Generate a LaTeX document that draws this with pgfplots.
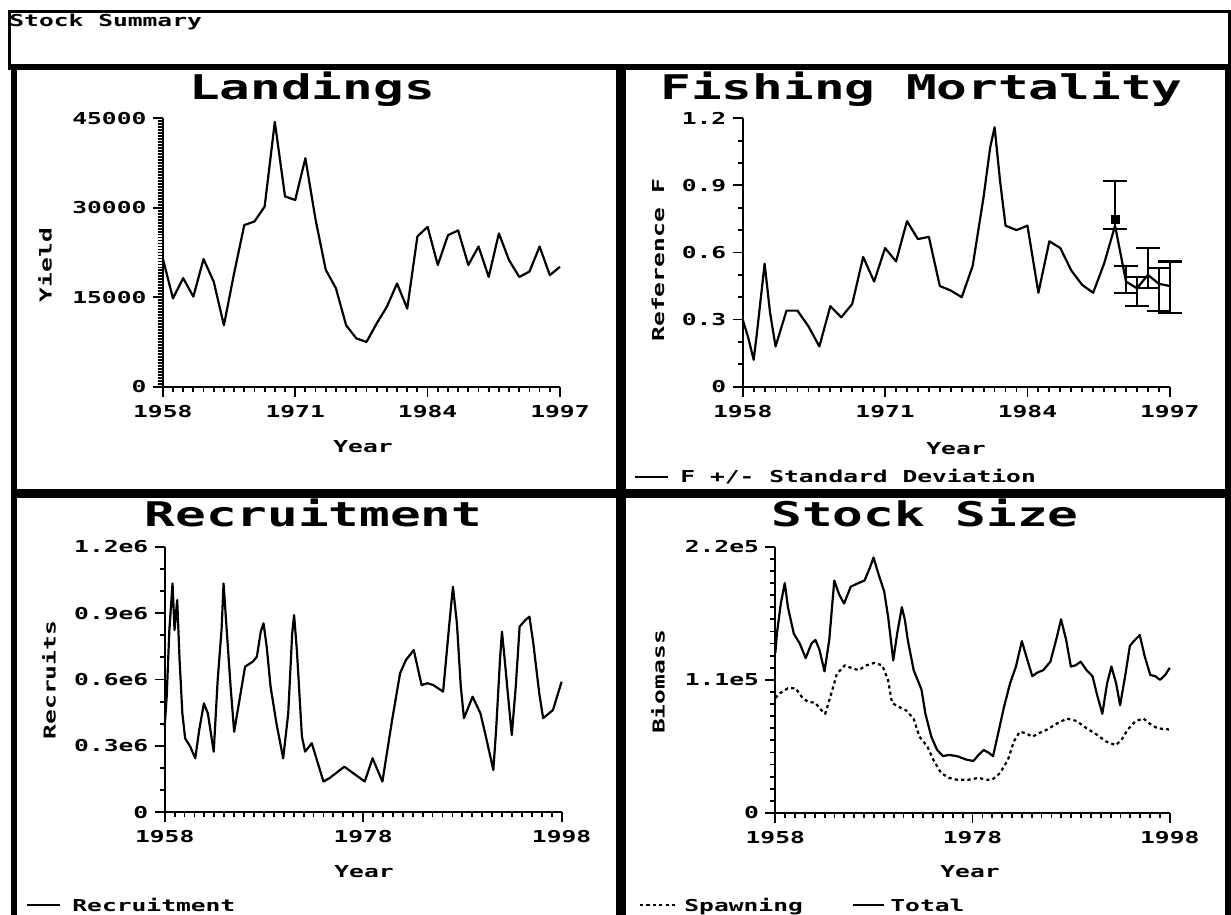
\documentclass[border=0pt]{standalone}
\usepackage{fontspec}
\usepackage{pgfplots}
\usepackage{pgfplotstable}
\pgfplotsset{compat=1.18}
\newfontfamily\pix[FakeStretch=1.5]{DejaVu Sans Mono Bold}
\newcommand\tf{\pix\fontsize{8.2}{9}\selectfont}
\newcommand\ttl{\pix\fontsize{17}{19}\selectfont}

\pgfplotstableread{
year y
1958 21500
1959 14800
1960 18200
1961 15100
1962 21400
1963 17600
1964 10300
1965 19000
1966 27100
1967 27700
1968 30200
1969 44400
1970 31900
1971 31300
1972 38300
1973 28000
1974 19600
1975 16500
1976 10300
1977 8100
1978 7500
1979 10600
1980 13400
1981 17300
1982 13100
1983 25200
1984 26800
1985 20400
1986 25400
1987 26200
1988 20400
1989 23500
1990 18400
1991 25700
1992 21200
1993 18400
1994 19300
1995 23500
1996 18700
1997 20100
}\landings

\pgfplotstableread{
year f
1958 0.30
1958.5 0.22
1959 0.12
1959.3 0.24
1960 0.55
1960.5 0.33
1961 0.18
1962 0.34
1963 0.34
1964 0.27
1965 0.18
1966 0.36
1967 0.31
1968 0.37
1969 0.58
1970 0.47
1971 0.62
1972 0.56
1973 0.74
1974 0.66
1975 0.67
1976 0.45
1977 0.43
1978 0.40
1979 0.54
1980 0.85
1980.6 1.07
1981 1.16
1981.5 0.92
1982 0.72
1983 0.70
1984 0.72
1985 0.42
1986 0.65
1987 0.62
1988 0.52
1989 0.455
1990 0.42
1991 0.55
1992 0.72
1993 0.47
1994 0.44
1995 0.50
1996 0.46
1997 0.45
}\fmort

\pgfplotstableread{
year f ep em
1992 0.75 0.17 0.045
1993 0.47 0.07 0.05
1994 0.43 0.06 0.07
1995 0.50 0.12 0.06
1996 0.46 0.07 0.12
1997 0.46 0.10 0.13
}\ferr

\pgfplotstableread{
year r
1958.0 387000
1958.2 522000
1958.47 824000
1958.79 1034000
1958.99 824000
1959.26 959000
1959.5 688000
1959.78 447000
1960.06 334000
1960.57 297000
1961.08 244000
1961.48 372000
1961.95 492000
1962.35 447000
1962.94 274000
1963.34 598000
1963.73 824000
1963.93 1034000
1964.25 824000
1964.64 568000
1965.0 364000
1965.31 447000
1966.1 658000
1966.89 681000
1967.29 703000
1967.68 816000
1967.96 854000
1968.28 748000
1968.67 568000
1969.26 402000
1969.94 244000
1970.45 447000
1970.85 809000
1971.04 891000
1971.32 733000
1971.83 342000
1972.15 274000
1972.82 312000
1973.34 236000
1974.0 139000
1974.6 154000
1976.1 206000
1978.16 139000
1978.95 244000
1979.94 139000
1980.92 417000
1981.72 628000
1982.31 688000
1983.1 733000
1983.89 575000
1984.48 583000
1985.07 575000
1986.06 545000
1986.66 839000
1987.05 1019000
1987.45 854000
1987.84 568000
1988.16 425000
1989.03 522000
1989.82 447000
1990.41 334000
1991.12 191000
1991.4 372000
1991.79 688000
1991.99 816000
1992.27 688000
1992.58 537000
1992.98 349000
1993.38 568000
1993.77 839000
1994.36 869000
1994.76 884000
1995.15 763000
1995.75 537000
1996.14 425000
1997.13 462000
1998.0 590000
}\recruit

\pgfplotstableread{
year b
1958.0 132000
1958.16 148000
1958.56 173000
1958.96 190000
1959.28 170000
1959.88 148000
1960.48 140000
1961.08 128000
1961.67 140000
1962.07 143000
1962.47 135000
1962.99 117000
1963.47 143000
1963.98 192000
1964.45 181000
1964.97 173000
1965.65 187000
1966.45 190000
1967.04 192000
1967.56 202000
1967.96 211000
1968.44 198000
1969.04 183000
1969.44 162000
1969.96 126000
1970.35 148000
1970.83 170000
1971.15 159000
1971.43 143000
1972.03 118000
1972.82 102000
1973.22 82000
1973.82 63000
1974.41 52000
1975.01 47000
1975.61 48000
1976.41 47000
1977.41 44000
1978.09 43000
1978.61 48000
1979.13 52000
1979.6 50000
1980.08 47000
1980.6 66000
1981.2 88000
1981.8 107000
1982.4 121000
1983.0 142000
1983.5 128000
1984.06 113000
1984.57 116000
1985.17 118000
1985.89 125000
1986.57 146000
1986.97 160000
1987.49 143000
1987.97 121000
1988.45 122000
1988.96 125000
1989.56 118000
1990.16 113000
1990.68 96000
1991.16 82000
1991.64 107000
1992.08 121000
1992.56 107000
1992.96 89000
1993.47 113000
1993.95 138000
1994.35 142000
1994.95 147000
1995.47 129000
1996.02 114000
1996.53 113000
1997.01 110000
1997.53 114000
1998.0 120000
}\total

\pgfplotstableread{
year b
1958.0 95000
1958.48 99000
1959.27 103000
1960.07 103000
1960.67 96000
1961.27 92000
1962.06 91000
1962.66 85000
1963.06 82000
1963.58 96000
1964.25 115000
1965.05 122000
1965.65 120000
1966.45 118000
1967.24 122000
1968.04 124000
1968.84 122000
1969.43 110000
1969.83 91000
1970.43 88000
1971.23 85000
1972.02 78000
1972.62 63000
1973.42 55000
1974.02 44000
1974.81 33000
1975.61 29000
1976.41 27500
1977.6 27500
1978.6 29000
1979.39 27500
1979.99 27500
1980.79 33000
1981.59 44000
1982.18 59000
1982.78 67000
1983.38 66000
1984.06 63000
1984.77 66000
1985.57 69000
1986.57 74000
1987.56 78000
1988.56 76000
1989.55 70000
1990.55 65000
1991.55 59000
1992.54 56000
1993.14 61000
1993.74 69000
1994.53 76000
1995.33 78000
1995.93 74000
1996.73 70000
1997.92 69000
}\spawn

\pgfplotsset{
  panel/.style={
    scale only axis, anchor=south west,
    axis lines*=left,
    axis line style={-, line width=1pt},
    tick align=outside,
    major tick length=5pt, minor tick length=2.6pt,
    every tick/.style={black, line width=0.9pt},
    ticklabel style={font=\tf, inner sep=0pt},
    xticklabel style={yshift=-4pt},
    yticklabel style={xshift=-3pt, anchor=east},
    scaled y ticks=false, scaled x ticks=false,
    clip=false,
  },
  dl/.style={black, mark=none, line width=1.1pt, line join=round},
}

\begin{document}
\begin{tikzpicture}
\useasboundingbox (0,0) rectangle (615.5pt,457.5pt);
% frames
\fill (4pt,451.2pt) rectangle (615.5pt,452.6pt);
\fill (4pt,424.5pt) rectangle (5.5pt,452.6pt);
\fill (614pt,424.5pt) rectangle (615.5pt,452.6pt);
\fill (4pt,422.5pt) rectangle (615.5pt,425.5pt);
\fill (5.5pt,0pt) rectangle (8.5pt,425.5pt);
\fill (308pt,0pt) rectangle (313pt,425.5pt);
\fill (5.5pt,208.5pt) rectangle (615.5pt,213pt);
\fill (612.5pt,0pt) rectangle (615.5pt,425.5pt);

\node[anchor=base west, inner sep=0pt, font=\tf] at (4.5pt,444.2pt) {Stock Summary};

% Landings
\begin{axis}[panel, at={(81.4pt,264.15pt)}, width=198.6pt, height=134.2pt,
  xmin=1958, xmax=1997, ymin=0, ymax=45000,
  xtick={1958,1971,1984,1997}, xticklabels={1958,1971,1984,1997},
  minor xtick={1958,...,1997},
  ytick={0,15000,30000,45000}, yticklabels={0,15000,30000,45000},
  minor ytick={0,500,...,45000}]
\addplot[dl] table[x=year,y=y]{\landings};
\end{axis}
\node[anchor=base, inner sep=0pt, font=\ttl] at (156pt,407.5pt) {Landings};
\node[rotate=90, font=\tf] at (22.5pt,325pt) {Yield};
\node[anchor=base, inner sep=0pt, font=\tf] at (181.5pt,231pt) {Year};

% Fishing mortality
\begin{axis}[panel, at={(371.35pt,264.15pt)}, width=213.55pt, height=134.2pt,
  xmin=1958, xmax=1997, ymin=0, ymax=1.2,
  xtick={1958,1971,1984,1997}, xticklabels={1958,1971,1984,1997},
  minor xtick={1958,...,1997},
  ytick={0,0.3,0.6,0.9,1.2}, yticklabels={0,0.3,0.6,0.9,1.2},
  minor ytick={0,0.1,...,1.2}]
\addplot[dl] table[x=year,y=f]{\fmort};
\addplot[draw=none, mark=none, forget plot,
  error bars/.cd, y dir=both, y explicit,
  error bar style={line width=1.1pt, black},
  error mark options={rotate=90, mark size=6pt, line width=1.1pt, black}]
  table[x=year, y=f, y error plus=ep, y error minus=em]{\ferr};
\addplot[only marks, black, mark=square*, mark size=2pt] coordinates {(1992,0.75)};
\end{axis}
\node[anchor=base, inner sep=0pt, font=\ttl] at (460.75pt,407.5pt) {Fishing Mortality};
\node[rotate=90, font=\tf] at (329pt,327.5pt) {Reference F};
\node[anchor=base, inner sep=0pt, font=\tf] at (478pt,230pt) {Year};
\draw[line width=1pt] (317.5pt,218.8pt) -- (334pt,218.8pt);
\node[anchor=base west, inner sep=0pt, font=\tf] at (340pt,216pt) {F +/- Standard Deviation};

% Recruitment
\begin{axis}[panel, at={(82.35pt,51.35pt)}, width=198.45pt, height=132.8pt,
  xmin=1958, xmax=1998, ymin=0, ymax=1200000,
  xtick={1958,1978,1998}, xticklabels={1958,1978,1998},
  minor xtick={1958,...,1998},
  ytick={0,300000,600000,900000,1200000}, yticklabels={0,0.3e6,0.6e6,0.9e6,1.2e6},
  minor ytick={0,100000,...,1200000}]
\addplot[dl] table[x=year,y=r]{\recruit};
\end{axis}
\node[anchor=base, inner sep=0pt, font=\ttl] at (156.75pt,194.2pt) {Recruitment};
\node[rotate=90, font=\tf] at (24.5pt,117.5pt) {Recruits};
\node[anchor=base, inner sep=0pt, font=\tf] at (182pt,18.5pt) {Year};
\draw[line width=1pt] (13.5pt,5pt) -- (30pt,5pt);
\node[anchor=base west, inner sep=0pt, font=\tf] at (36pt,1.5pt) {Recruitment};

% Stock size
\begin{axis}[panel, at={(387.65pt,51pt)}, width=197.25pt, height=133.15pt,
  xmin=1958, xmax=1998, ymin=0, ymax=220000,
  xtick={1958,1978,1998}, xticklabels={1958,1978,1998},
  minor xtick={1958,...,1998},
  ytick={0,110000,220000}, yticklabels={0,1.1e5,2.2e5},
  minor ytick={0,10000,...,220000}]
\addplot[dl, dash pattern=on 1.6pt off 1.6pt] table[x=year,y=b]{\spawn};
\addplot[dl] table[x=year,y=b]{\total};
\end{axis}
\node[anchor=base, inner sep=0pt, font=\ttl] at (462.5pt,194.2pt) {Stock Size};
\node[rotate=90, font=\tf] at (329pt,116.5pt) {Biomass};
\node[anchor=base, inner sep=0pt, font=\tf] at (485pt,18.5pt) {Year};
\draw[line width=1pt, dash pattern=on 1.6pt off 1.6pt] (320pt,5pt) -- (338pt,5pt);
\node[anchor=base west, inner sep=0pt, font=\tf] at (342pt,1.5pt) {Spawning};
\draw[line width=1pt] (426.5pt,5pt) -- (442pt,5pt);
\node[anchor=base west, inner sep=0pt, font=\tf] at (445pt,1.5pt) {Total};
\end{tikzpicture}
\end{document}
